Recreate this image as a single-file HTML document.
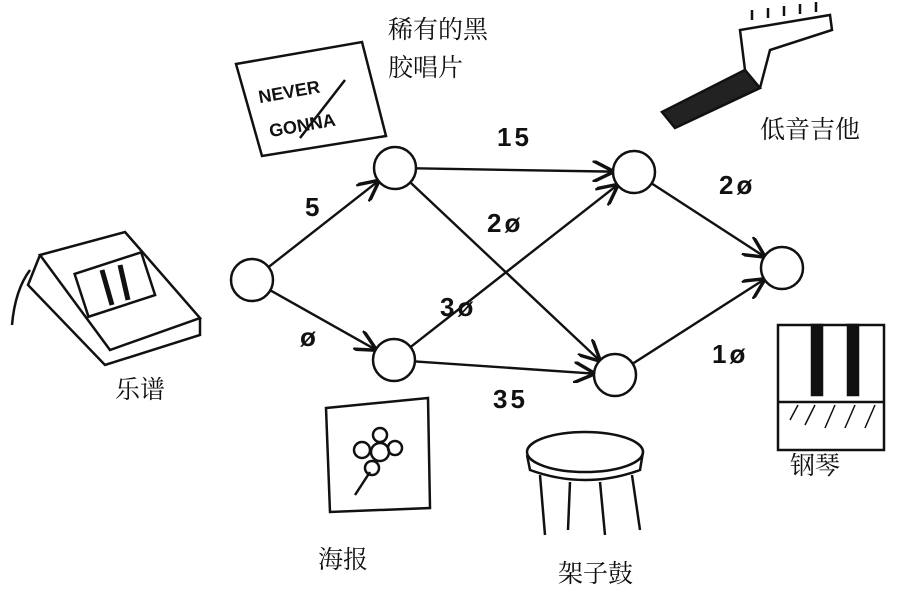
<!DOCTYPE html>
<html><head><meta charset="utf-8"><style>
html,body{margin:0;padding:0;background:#fff;}
svg{display:block;}
text{font-family:"Liberation Sans","Noto Sans CJK SC",sans-serif;fill:#111;}
.cn{font-family:"Liberation Serif","Noto Serif CJK SC",serif;font-size:25px;}
.w{font-size:26px;font-weight:bold;letter-spacing:3px;}
</style></head><body>
<svg id="chart" width="901" height="592" viewBox="0 0 901 592" xmlns="http://www.w3.org/2000/svg">
<defs><marker id="ah" viewBox="0 0 10 10" refX="9" refY="5" markerWidth="9" markerHeight="9" orient="auto"><path d="M0,0 L10,5 L0,10" fill="none" stroke="#111" stroke-width="1.6"/></marker></defs>

<!-- record sign -->
<g stroke="#111" stroke-width="2.5" fill="none">
<polygon points="236,64 362,42 386,136 262,156"/>
<text x="258" y="96" transform="rotate(-10 300 90)" style="font-size:18px;font-weight:bold;stroke:none">NEVER</text>
<text x="268" y="130" transform="rotate(-10 310 120)" style="font-size:18px;font-weight:bold;stroke:none">GONNA</text>
<line x1="300" y1="138" x2="345" y2="80"/>
</g>
<text class="cn" x="388" y="38">稀有的黑</text>
<text class="cn" x="388" y="76">胶唱片</text>

<!-- guitar -->
<g stroke="#111" stroke-width="2.5" fill="none">
<path d="M662,112 L745,70 L760,88 L675,128 Z" fill="#222"/>
<path d="M745,70 L740,30 L830,15 L832,30 L770,50 L760,88"/>
<line x1="752" y1="20" x2="752" y2="10"/><line x1="768" y1="18" x2="768" y2="8"/><line x1="784" y1="16" x2="784" y2="6"/><line x1="800" y1="14" x2="800" y2="4"/><line x1="816" y1="12" x2="816" y2="2"/>
</g>
<text class="cn" x="760" y="138">低音吉他</text>

<!-- book -->
<g stroke="#111" stroke-width="2.5" fill="none">
<polygon points="40,255 125,232 200,318 110,350"/>
<path d="M40,255 L28,285 L105,365 L200,335 L200,318"/>
<path d="M30,270 Q15,290 12,325"/>
<rect x="80" y="262" width="70" height="45" transform="rotate(-18 115 285)"/>
<line x1="102" y1="270" x2="112" y2="305" stroke-width="5"/><line x1="120" y1="265" x2="128" y2="300" stroke-width="5"/>
</g>
<text class="cn" x="115" y="398">乐谱</text>

<!-- poster -->
<g stroke="#111" stroke-width="2.5" fill="none">
<polygon points="326,408 428,398 430,508 330,512"/>
<circle cx="380" cy="452" r="9"/><circle cx="362" cy="450" r="8"/><circle cx="395" cy="448" r="7"/><circle cx="372" cy="468" r="7"/><circle cx="380" cy="435" r="7"/>
<path d="M370,472 L355,495"/>
</g>
<text class="cn" x="318" y="568">海报</text>

<!-- drum -->
<g stroke="#111" stroke-width="2.5" fill="none">
<ellipse cx="585" cy="452" rx="58" ry="20"/>
<path d="M527,455 L530,470 Q585,490 640,470 L643,452"/>
<line x1="540" y1="475" x2="545" y2="535"/><line x1="570" y1="482" x2="568" y2="530"/><line x1="600" y1="482" x2="605" y2="535"/><line x1="632" y1="475" x2="640" y2="530"/>
</g>
<text class="cn" x="558" y="582">架子鼓</text>

<!-- piano -->
<g stroke="#111" stroke-width="2.5" fill="none">
<rect x="778" y="325" width="106" height="125"/>
<rect x="812" y="325" width="10" height="70" fill="#111"/><rect x="848" y="325" width="10" height="70" fill="#111"/>
<line x1="778" y1="402" x2="884" y2="402"/>
<path d="M790,420 L798,405 M805,425 L815,405 M825,428 L835,405 M845,428 L855,405 M865,428 L875,405" stroke-width="1.5"/>
</g>
<text class="cn" x="790" y="474">钢琴</text>

<g id="graph"></g>
</svg>
<script>
const nodeNames=["sheet-music","rare-record","poster","bass-guitar","drum","piano"];
const nodeX=[252,395,394,634,615,782];
const nodeY=[280,168,360,172,375,268];
const edgeFrom=[0,0,1,1,2,2,3,4];
const edgeTo=[1,2,3,4,3,4,5,5];
const edgeWeights=["5","0","15","20","30","35","20","10"];
const labelX=[305,300,497,487,440,493,719,712];
const labelY=[216,346,146,232,316,408,194,363];
const R=21, NS="http://www.w3.org/2000/svg";
const g=document.getElementById('graph');
function fmt(w){return w.replace(/0/g,'ø');}
for(let i=0;i<edgeFrom.length;i++){
  const a=edgeFrom[i], b=edgeTo[i];
  const dx=nodeX[b]-nodeX[a], dy=nodeY[b]-nodeY[a], d=Math.hypot(dx,dy);
  const l=document.createElementNS(NS,'line');
  l.setAttribute('x1',nodeX[a]+dx/d*R); l.setAttribute('y1',nodeY[a]+dy/d*R);
  l.setAttribute('x2',nodeX[b]-dx/d*(R+1)); l.setAttribute('y2',nodeY[b]-dy/d*(R+1));
  l.setAttribute('stroke','#111'); l.setAttribute('stroke-width','2.4'); l.setAttribute('marker-end','url(#ah)');
  
  
  g.appendChild(l);
  const t=document.createElementNS(NS,'text');
  t.setAttribute('x',labelX[i]); t.setAttribute('y',labelY[i]); t.setAttribute('class','w');
  t.textContent=fmt(edgeWeights[i]);
  
  
  g.appendChild(t);
}
for(let i=0;i<nodeX.length;i++){
  const c=document.createElementNS(NS,'circle');
  c.setAttribute('cx',nodeX[i]); c.setAttribute('cy',nodeY[i]); c.setAttribute('r',R);
  c.setAttribute('fill','#fff'); c.setAttribute('stroke','#111'); c.setAttribute('stroke-width','2.5');
  
  
  g.appendChild(c);
}
</script>
</body></html>
